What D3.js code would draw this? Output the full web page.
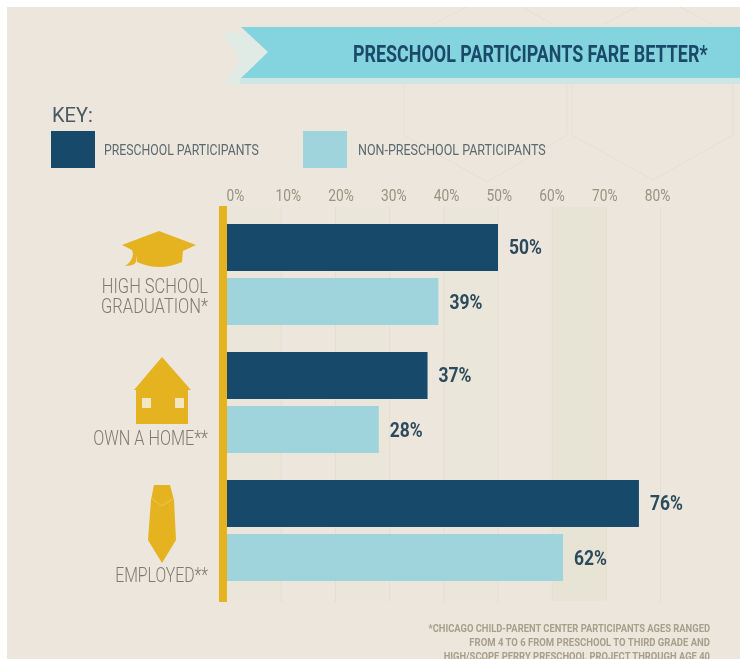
<!DOCTYPE html>
<html>
<head>
<meta charset="utf-8">
<script src="https://d3js.org/d3.v7.min.js"></script>
<style>
  html, body { margin: 0; padding: 0; background: #fff; }
  svg { display: block; filter: blur(0.4px); }
  text { font-family: "Roboto", sans-serif; }
</style>
</head>
<body>
<div id="chart"></div>
<script>
var categories = ["HIGH SCHOOL GRADUATION*", "OWN A HOME**", "EMPLOYED**"];
var seriesNames = ["PRESCHOOL PARTICIPANTS", "NON-PRESCHOOL PARTICIPANTS"];
var preschool = [50, 37, 76];
var nonPreschool = [39, 28, 62];
var tickValues = [0, 10, 20, 30, 40, 50, 60, 70, 80];
var shadedBands = [0, 20, 40, 60];
var footnote = [
  "*CHICAGO CHILD-PARENT CENTER PARTICIPANTS AGES RANGED",
  "FROM 4 TO 6 FROM PRESCHOOL TO THIRD GRADE AND",
  "HIGH/SCOPE PERRY PRESCHOOL PROJECT THROUGH AGE 40"
];

var navy = "#17496a", pale = "#9fd4dc", gold = "#e5b31f", paper = "#ece6dd";

var svg = d3.select("#chart").append("svg")
  .attr("width", 740)
  .attr("height", 659);

// the fonts here are wider than the original's, so squeeze a text to a measured width
function squeeze(sel, w) {
  sel.each(function() {
    var t = d3.select(this);
    var tx = +t.attr("x") || 0, ty = +t.attr("y") || 0;
    var width = typeof w === "function" ? w.apply(this, arguments) : w;
    var k = width / this.getBBox().width;
    t.attr("x", 0).attr("y", 0).attr("transform", "translate(" + tx + "," + ty + ") scale(" + k + ",1)");
  });
}

svg.append("rect").attr("x", 7).attr("y", 7).attr("width", 733).attr("height", 652).attr("fill", paper);

// faint hexagons behind the header
var hexLine = d3.line();
[
  [[433, 24], [467, 7]],
  [[522, 7], [552, 24]],
  [[604, 24], [636, 7]],
  [[680, 7], [712, 24]],
  [[404, 80], [404, 135], [487, 182], [567, 135], [567, 80]],
  [[572, 80], [572, 135], [653, 180], [733, 135], [733, 80]]
].forEach(function(p) {
  svg.append("path").attr("d", hexLine(p)).attr("fill", "none").attr("stroke", "#e6dfd3").attr("stroke-width", 1);
});

// header ribbon
svg.append("polygon").attr("points", "222,33 252,33 268,52 252,84 226,84 240,58").attr("fill", "#e0ebe6");
svg.append("rect").attr("x", 240).attr("y", 78).attr("width", 500).attr("height", 6).attr("fill", "#cfe6e6");
svg.append("polygon").attr("points", "241,27 740,27 740,78 241,78 268,52").attr("fill", "#84d4e0");
svg.append("text").attr("x", 353).attr("y", 62)
  .attr("font-size", 23).attr("font-weight", 700).attr("fill", "#1a4a68")
  .text("PRESCHOOL PARTICIPANTS FARE BETTER*")
  .call(squeeze, 355);

// key
svg.append("text").attr("x", 52).attr("y", 122).attr("font-size", 20).attr("fill", "#4a5a64").text("KEY:");
var keyX = d3.scaleOrdinal().domain(seriesNames).range([51, 303]);
var keyTextX = d3.scaleOrdinal().domain(seriesNames).range([104, 358]);
var color = d3.scaleOrdinal().domain(seriesNames).range([navy, pale]);
var keyLen = d3.scaleOrdinal().domain(seriesNames).range([155, 188]);
seriesNames.forEach(function(s) {
  svg.append("rect").attr("x", keyX(s)).attr("y", 131).attr("width", 44).attr("height", 37).attr("fill", color(s));
  svg.append("text").attr("x", keyTextX(s)).attr("y", 155)
    .attr("font-size", 14).attr("fill", "#5c6a70").text(s)
    .call(squeeze, keyLen(s));
});

// scales
var x = d3.scaleLinear().domain([0, 80]).range([227, 660.6]);
// tick labels run on a slightly tighter spacing than the grid in the original
var tickX = d3.scaleLinear().domain([0, 80]).range([235, 657]);
var y0 = d3.scaleBand().domain(categories).range([224, 581]).paddingInner(27 / 128);
var y1 = d3.scaleBand().domain(seriesNames).range([0, y0.bandwidth()]).paddingInner(0.13);

// shaded columns and grid
svg.selectAll("rect.band").data(shadedBands).enter().append("rect")
  .attr("class", "band")
  .attr("x", function(d) { return x(d); })
  .attr("y", 207)
  .attr("width", function(d) { return x(d + 10) - x(d); })
  .attr("height", 394)
  .attr("fill", function(d) { return d === 60 ? "#e8e4d5" : "#ebe6da"; });

svg.selectAll("line.grid").data(tickValues.slice(1)).enter().append("line")
  .attr("class", "grid")
  .attr("x1", function(d) { return x(d); })
  .attr("x2", function(d) { return x(d); })
  .attr("y1", 207)
  .attr("y2", 602)
  .attr("stroke", "#e4dfd0")
  .attr("stroke-width", 1);

// axis
var axis = svg.append("g")
  .attr("transform", "translate(0,201)")
  .call(d3.axisTop(tickX).tickValues(tickValues).tickSize(0).tickPadding(0).tickFormat(function(d) { return d + "%"; }));
axis.select(".domain").remove();
axis.selectAll("text")
  .attr("font-family", "Roboto, sans-serif")
  .attr("font-size", 16)
  .attr("fill", "#98927f")
  .attr("transform", "scale(0.86,1)");

// bars
var rows = categories.map(function(c, i) {
  return [
    { cat: c, s: seriesNames[0], v: preschool[i] },
    { cat: c, s: seriesNames[1], v: nonPreschool[i] }
  ];
});
var groups = svg.selectAll("g.group").data(rows).enter().append("g")
  .attr("class", "group")
  .attr("transform", function(d) { return "translate(0," + y0(d[0].cat) + ")"; });

groups.selectAll("rect").data(function(d) { return d; }).enter().append("rect")
  .attr("x", x(0))
  .attr("y", function(d) { return y1(d.s); })
  .attr("width", function(d) { return x(d.v) - x(0); })
  .attr("height", y1.bandwidth())
  .attr("fill", function(d) { return color(d.s); });

groups.selectAll("text").data(function(d) { return d; }).enter().append("text")
  .attr("x", function(d) { return x(d.v) + 11; })
  .attr("y", function(d) { return y1(d.s) + y1.bandwidth() / 2 + 7; })
  .attr("font-size", 20)
  .attr("font-weight", 700)
  .attr("fill", "#2c4a5c")
  .text(function(d) { return d.v + "%"; })
  .call(squeeze, 33);

// gold axis bar
svg.append("rect").attr("x", 219).attr("y", 206).attr("width", 8).attr("height", 396).attr("fill", gold);

// row labels
function rowLabel(lines, yy, len) {
  var t = svg.append("text").attr("x", 208).attr("y", yy).attr("text-anchor", "end")
    .attr("font-size", 21).attr("font-weight", 300).attr("fill", "#807a6c");
  lines.forEach(function(l, i) {
    t.append("tspan").attr("x", 0).attr("dy", i ? 20 : 0).text(l);
  });
  t.call(squeeze, len);
}
rowLabel(["HIGH SCHOOL", "GRADUATION*"], 293, 107);
rowLabel(["OWN A HOME**"], 445, 115);
rowLabel(["EMPLOYED**"], 582, 93);

// icons
svg.append("path").attr("fill", gold)
  .attr("d", "M122,245 L159,231 L196,245 L183,251 L182,262 Q159,272 137,262 L137,255 L136,262 Q134,266 125,266 Q132,262 133,254 L132,250 Z");
svg.append("path").attr("fill", gold)
  .attr("d", "M162,357 L191,390 L188,390 L188,424 L136,424 L136,390 L134,390 Z");
svg.append("rect").attr("x", 142).attr("y", 398).attr("width", 9).attr("height", 10).attr("fill", "#f3e7c2");
svg.append("rect").attr("x", 175).attr("y", 398).attr("width", 9).attr("height", 10).attr("fill", "#f3e7c2");
svg.append("path").attr("fill", gold)
  .attr("d", "M154,485 L170,485 L174,500 L176,540 L162,563 L148,540 L151,500 Z");
svg.append("path").attr("d", "M151,498 L162,506 L174,498").attr("fill", "none").attr("stroke", "#ecc759").attr("stroke-width", 1);

// footnote
var noteLen = [282, 241, 267];
svg.selectAll("text.note").data(footnote).enter().append("text")
  .attr("class", "note")
  .attr("x", 710)
  .attr("y", function(d, i) { return 632 + i * 14; })
  .attr("text-anchor", "end")
  .attr("font-size", 11.5)
  .attr("font-weight", 700)
  .attr("fill", "#a89f8a")
  .text(function(d) { return d; })
  .call(squeeze, function(d, i) { return noteLen[i]; });
</script>
</body>
</html>
